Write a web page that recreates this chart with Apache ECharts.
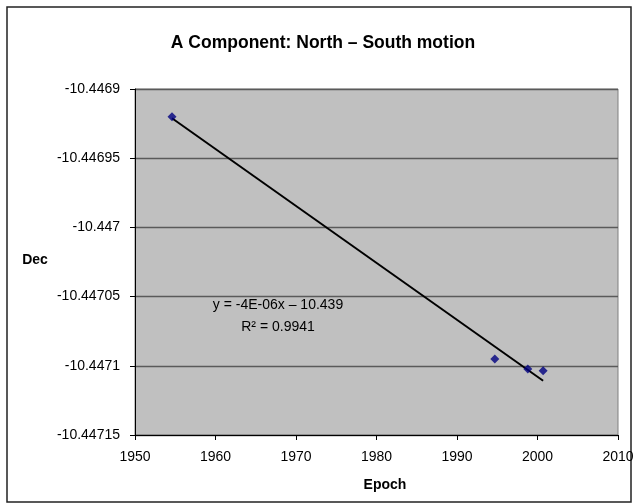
<!DOCTYPE html>
<html>
<head>
<meta charset="utf-8">
<script src="https://cdn.jsdelivr.net/npm/echarts@6/dist/echarts.min.js"></script>
<style>
html,body{margin:0;padding:0;background:#fff;}
#c{width:638px;height:504px;}
</style>
</head>
<body>
<div id="c"></div>
<script>
var epochs = [1954.6, 1994.7, 1998.8, 2000.7];
var decs = [-10.44692, -10.447095, -10.4471024, -10.4471036];
var titleText = 'A Component: North \u2013 South motion';
var xName = 'Epoch';
var yName = 'Dec';
var eqText = 'y = -4E-06x \u2013 10.439';
var r2Text = 'R\u00B2 = 0.9941';
var xMin = 1950, xMax = 2010, xStep = 10;
var yMin = -10.44715, yMax = -10.4469, yStep = 0.00005;

// least-squares trendline over data range
var n = epochs.length, mx = 0, my = 0;
for (var i = 0; i < n; i++) { mx += epochs[i]; my += decs[i]; }
mx /= n; my /= n;
var sxy = 0, sxx = 0;
for (var i = 0; i < n; i++) { sxy += (epochs[i]-mx)*(decs[i]-my); sxx += (epochs[i]-mx)*(epochs[i]-mx); }
var slope = sxy / sxx, icpt = my - slope * mx;
var x0 = Math.min.apply(null, epochs), x1 = Math.max.apply(null, epochs);
var trend = [[x0, slope*x0+icpt], [x1, slope*x1+icpt]];

var FONT = '"Liberation Sans", Arial, sans-serif';
var chart = echarts.init(document.getElementById('c'), null, {renderer:'canvas'});
chart.setOption({
  animation: false,
  backgroundColor: '#ffffff',
  grid: {left: 135, right: 20, top: 89, bottom: 69, show: true, backgroundColor: '#c0c0c0', borderColor: '#808080', borderWidth: 1},
  xAxis: {
    type: 'value', min: xMin, max: xMax, interval: xStep,
    axisLine: {show: true, onZero: false, lineStyle: {color: '#000', width: 1}},
    axisTick: {show: true, length: 5, lineStyle: {color: '#000'}},
    axisLabel: {margin: 15, fontFamily: FONT, fontSize: 14, color: '#000',
      formatter: function(v){ return String(v); }},
    splitLine: {show: false}
  },
  yAxis: {
    type: 'value', min: yMin, max: yMax, interval: yStep,
    axisLine: {show: true, onZero: false, lineStyle: {color: '#000', width: 1}},
    axisTick: {show: true, length: 5, lineStyle: {color: '#000'}},
    axisLabel: {margin: 15, fontFamily: FONT, fontSize: 14, color: '#000',
      formatter: function(v){ return String(Number(v.toFixed(5))); }},
    splitLine: {show: true, lineStyle: {color: '#5a5a5a', width: 1.3}}
  },
  graphic: [
    {type: 'rect', shape: {x: 7, y: 7, width: 624, height: 495}, style: {fill: 'none', stroke: '#222', lineWidth: 1.5}, silent: true, z: -1},
    {type: 'text', x: 323, y: 43, style: {text: titleText, font: 'bold 17.5px ' + FONT, fill: '#000', textAlign: 'center', textVerticalAlign: 'middle'}},
    {type: 'text', x: 35, y: 260, style: {text: yName, font: 'bold 14px ' + FONT, fill: '#000', textAlign: 'center', textVerticalAlign: 'middle'}},
    {type: 'text', x: 385, y: 485, style: {text: xName, font: 'bold 14px ' + FONT, fill: '#000', textAlign: 'center', textVerticalAlign: 'middle'}},
    {type: 'text', x: 278, y: 305, style: {text: eqText, font: '14px ' + FONT, fill: '#000', textAlign: 'center', textVerticalAlign: 'middle'}, z: 100},
    {type: 'text', x: 278, y: 327, style: {text: r2Text, font: '14px ' + FONT, fill: '#000', textAlign: 'center', textVerticalAlign: 'middle'}, z: 100}
  ],
  series: [
    {
      type: 'line', data: trend, symbol: 'none', z: 2,
      lineStyle: {color: '#000', width: 2}
    },
    {
      type: 'scatter', data: epochs.map(function(x,i){return [x, decs[i]];}),
      symbol: 'diamond', symbolSize: 9, z: 3,
      itemStyle: {color: '#000080'}
    }
  ]
});
</script>
</body>
</html>
